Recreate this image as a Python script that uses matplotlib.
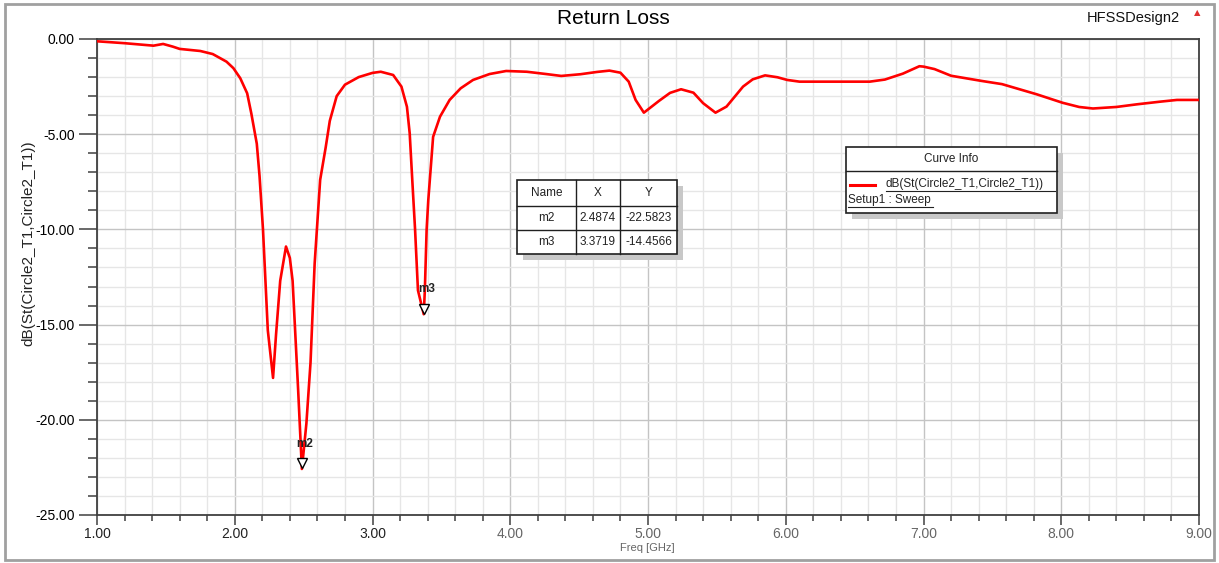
import matplotlib
matplotlib.use("Agg")
import matplotlib.pyplot as plt
from matplotlib.patches import Rectangle
from matplotlib.lines import Line2D
from matplotlib.ticker import MultipleLocator, FormatStrFormatter
import matplotlib.transforms as mtransforms

plt.rcParams['font.family'] = ['Liberation Sans', 'DejaVu Sans']

# curve
freq = [1.00, 1.20, 1.41, 1.48, 1.55, 1.60, 1.75, 1.84, 1.94, 1.99, 2.04, 2.09,
        2.12, 2.16, 2.18, 2.205, 2.24, 2.278, 2.30, 2.33, 2.372, 2.40, 2.42,
        2.46, 2.4874, 2.52, 2.55, 2.58, 2.62, 2.66, 2.69, 2.74, 2.80, 2.90,
        3.00, 3.06, 3.15, 3.21, 3.25, 3.27, 3.29, 3.309, 3.33, 3.3719, 3.38,
        3.393, 3.405, 3.44, 3.49, 3.56, 3.64, 3.73, 3.85, 3.97, 4.12, 4.26,
        4.37, 4.51, 4.63, 4.72, 4.80, 4.86, 4.91, 4.97, 5.08, 5.16, 5.24, 5.33,
        5.40, 5.49, 5.57, 5.69, 5.76, 5.85, 5.94, 6.01, 6.10, 6.61, 6.72, 6.85,
        6.97, 7.00, 7.08, 7.20, 7.42, 7.57, 7.82, 8.01, 8.13, 8.23, 8.40, 8.55,
        8.72, 8.84, 9.00]
s11_db = [-0.12, -0.22, -0.35, -0.26, -0.40, -0.52, -0.63, -0.79, -1.19, -1.53,
          -2.06, -2.85, -3.90, -5.50, -7.20, -10.0, -15.3, -17.8, -15.5, -12.7,
          -10.9, -11.5, -12.7, -18.4, -22.5823, -20.2, -17.0, -11.8, -7.4, -5.7,
          -4.3, -3.0, -2.4, -2.0, -1.78, -1.72, -1.89, -2.5, -3.56, -4.95,
          -7.57, -10.0, -13.2, -14.4566, -13.2, -10.0, -8.46, -5.14, -4.08,
          -3.2, -2.59, -2.15, -1.84, -1.68, -1.72, -1.84, -1.94, -1.85, -1.73,
          -1.66, -1.77, -2.24, -3.2, -3.87, -3.25, -2.83, -2.64, -2.82, -3.37,
          -3.87, -3.55, -2.5, -2.12, -1.91, -2.01, -2.15, -2.24, -2.24, -2.13,
          -1.82, -1.43, -1.45, -1.58, -1.93, -2.2, -2.37, -2.9, -3.35, -3.57,
          -3.65, -3.57, -3.43, -3.29, -3.2, -3.2]

marker_names = ['m2', 'm3']
marker_x = [2.4874, 3.3719]
marker_y = [-22.5823, -14.4566]

W, H = 1219, 563
fig = plt.figure(figsize=(W / 100, H / 100), dpi=100)


def fx(px):
    return px / W


def fy(py):
    return 1 - py / H


ax = fig.add_axes([fx(97), fy(515), fx(1199) - fx(97), fy(39) - fy(515)])

ax.plot(freq, s11_db, color='#ff0000', lw=1.9, solid_joinstyle='round', zorder=3)

ax.set_xlim(1, 9)
ax.set_ylim(-25, 0)
ax.xaxis.set_major_locator(MultipleLocator(1))
ax.xaxis.set_minor_locator(MultipleLocator(0.2))
ax.yaxis.set_major_locator(MultipleLocator(5))
ax.yaxis.set_minor_locator(MultipleLocator(1))
ax.xaxis.set_major_formatter(FormatStrFormatter('%.2f'))
ax.yaxis.set_major_formatter(FormatStrFormatter('%.2f'))

ax.grid(which='major', color='#c4c4c4', lw=1.0, zorder=0)
ax.grid(which='minor', color='#e6e6e6', lw=1.0, zorder=0)
ax.set_axisbelow(True)

for sp in ax.spines.values():
    sp.set_color('#404040')
    sp.set_linewidth(1.3)

ax.tick_params(axis='y', which='major', length=13, width=1.1, color='#404040',
               labelsize=10, pad=3)
ax.tick_params(axis='y', which='minor', length=6.5, width=1.1, color='#404040')
ax.tick_params(axis='x', which='major', length=7, width=1.1, color='#404040',
               labelsize=10, pad=2)
ax.tick_params(axis='x', which='minor', length=4, width=1.1, color='#404040')
for i, lab in enumerate(ax.get_xticklabels()):
    lab.set_color('#222222' if i < 4 else '#666666')

ax.set_ylabel('dB(St(Circle2_T1,Circle2_T1))', fontsize=11, color='#222222')
ax.yaxis.set_label_coords(-0.056, 0.571)
fig.text(fx(647), fy(548), 'Freq [GHz]', fontsize=8, color='#666666',
         ha='center', va='center')

# markers: downward triangle with apex on the point
up = mtransforms.offset_copy(ax.transData, fig=fig, x=0, y=4, units='points')
for name, mx, my in zip(marker_names, marker_x, marker_y):
    ax.plot([mx], [my], marker='v', ms=7, mfc='white', mec='black', mew=1.0,
            transform=up, zorder=4, clip_on=False)
    ax.annotate(name, (mx, my), xytext=(2, 14), textcoords='offset points',
                ha='center', va='bottom', fontsize=8.5, fontweight='bold',
                color='#222222', zorder=5)

# titles
fig.text(0.503, fy(18), 'Return Loss', fontsize=15, ha='center', va='center')
fig.text(fx(1180), fy(18), 'HFSSDesign2', fontsize=10.5, ha='right', va='center',
         color='#111111')
fig.text(fx(1197), fy(13), '\u25b2', fontsize=6, ha='center', va='center',
         color='#e03030', family='DejaVu Sans')

# outer frame
fig.patches.append(Rectangle((fx(5), fy(560)), fx(1214) - fx(5), fy(4) - fy(560),
                             transform=fig.transFigure, fill=False,
                             ec='#a0a0a0', lw=2))


def box(x0, y0, x1, y1):
    fig.patches.append(Rectangle((fx(x0 + 6), fy(y1 + 6)), fx(x1) - fx(x0),
                                 fy(y0) - fy(y1), transform=fig.transFigure,
                                 fc='#c8c8c8', ec='none', zorder=6))
    fig.patches.append(Rectangle((fx(x0), fy(y1)), fx(x1) - fx(x0),
                                 fy(y0) - fy(y1), transform=fig.transFigure,
                                 fc='white', ec='#202020', lw=1.2, zorder=7))


def hline(x0, x1, y, **kw):
    fig.lines.append(Line2D([fx(x0), fx(x1)], [fy(y), fy(y)],
                            transform=fig.transFigure, zorder=8, **kw))


def vline(x, y0, y1, **kw):
    fig.lines.append(Line2D([fx(x), fx(x)], [fy(y0), fy(y1)],
                            transform=fig.transFigure, zorder=8, **kw))


# marker table
tx = [517, 576, 620, 677]
ty = [180, 206, 230, 254]
box(tx[0], ty[0], tx[-1], ty[-1])
for x in tx[1:-1]:
    vline(x, ty[0], ty[-1], color='#202020', lw=1.0)
for y in ty[1:-1]:
    hline(tx[0], tx[-1], y, color='#202020', lw=1.0)
rows = [['Name', 'X', 'Y']]
for name, mx, my in zip(marker_names, marker_x, marker_y):
    rows.append([name, '%.4f' % mx, '%.4f' % my])
for r, row in enumerate(rows):
    yc = (ty[r] + ty[r + 1]) / 2
    for c, txt in enumerate(row):
        xc = (tx[c] + tx[c + 1]) / 2
        fig.text(fx(xc), fy(yc), txt, fontsize=8.5, ha='center', va='center',
                 color='#222222', zorder=9)

# curve info box
box(846, 147, 1057, 213)
hline(846, 1057, 171, color='#202020', lw=1.0)
fig.text(fx(951), fy(159), 'Curve Info', fontsize=8.5, ha='center', va='center',
         color='#222222', zorder=9)
hline(850, 875, 184.5, color='#ff0000', lw=2.2)
fig.text(fx(886), fy(184), 'dB(St(Circle2_T1,Circle2_T1))', fontsize=8.5,
         ha='left', va='center', color='#222222', zorder=9)
hline(886, 1055, 191, color='#222222', lw=0.8)
fig.text(fx(848), fy(200), 'Setup1 : Sweep', fontsize=8.5, ha='left',
         va='center', color='#222222', zorder=9)
hline(848, 933, 207, color='#222222', lw=0.8)

fig.savefig('out.png', dpi=100)
